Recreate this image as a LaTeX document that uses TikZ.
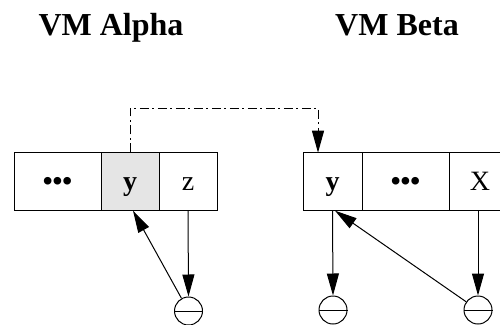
\documentclass[tikz,border=0pt]{standalone}
\usepackage{fontspec}
\setmainfont{Liberation Serif}
\usetikzlibrary{arrows.meta}
\begin{document}
\begin{tikzpicture}[x=1pt,y=-1pt,
  cell/.style={draw,line width=1pt,minimum height=57.3pt,inner sep=0pt,
    text height=19pt,text depth=0pt,font=\fontsize{28}{33}\selectfont},
  bcell/.style={cell,font=\fontsize{28}{33}\selectfont\bfseries},
  title/.style={anchor=base,font=\fontsize{32}{38}\selectfont\bfseries},
  ring/.style={draw,circle,line width=1pt,minimum size=28pt,inner sep=0pt},
  arr/.style={line width=1pt,-{Triangle[length=22pt,width=12pt]}},
  dashdot/.style={line width=1pt,dash pattern=on 9pt off 3.5pt on 2pt off 3.5pt}]
\useasboundingbox (0,0) rectangle (500,324);
\node[title] (ta) at (111,35) {VM Alpha};
\node[title] (tb) at (397,35) {VM Beta};
% left vector
\node[bcell,minimum width=87pt] (a1) at (57.5,181.4) {•••};
\node[bcell,minimum width=58pt,fill=black!10] (a2) at (130,181.4) {y};
\node[cell,minimum width=58pt] (a3) at (188,181.4) {z};
% right vector
\node[bcell,minimum width=59pt] (b1) at (332.5,181.4) {y};
\node[bcell,minimum width=87pt] (b2) at (405.5,181.4) {•••};
\node[cell,minimum width=62pt] (b3) at (480,181.4) {X};
% rings
\node[ring] (lc) at (188.5,311) {};
\node[ring] (rc1) at (333,310) {};
\node[ring] (rc2) at (478,310) {};
\draw[line width=1pt] (lc.west) -- (lc.east);
\draw[line width=1pt] (rc1.west) -- (rc1.east);
\draw[line width=1pt] (rc2.west) -- (rc2.east);
% coordinates
\coordinate (tl) at (133,210.7);
\coordinate (tr) at (335,210.7);
\coordinate (top) at (318,108);
\coordinate (ti) at (318,152.7);
\coordinate (xs) at (478,210.7);
% arrows
\draw[arr] (a3.south) -- (lc.north);
\draw[arr] (lc) -- (tl);
\draw[arr] (b1.south) -- (rc1.north);
\draw[arr] (rc2) -- (tr);
\draw[arr] (xs) -- (rc2.north);
\draw[dashdot,arr] (a2.north) |- (top) -- (ti);
\end{tikzpicture}
\end{document}
